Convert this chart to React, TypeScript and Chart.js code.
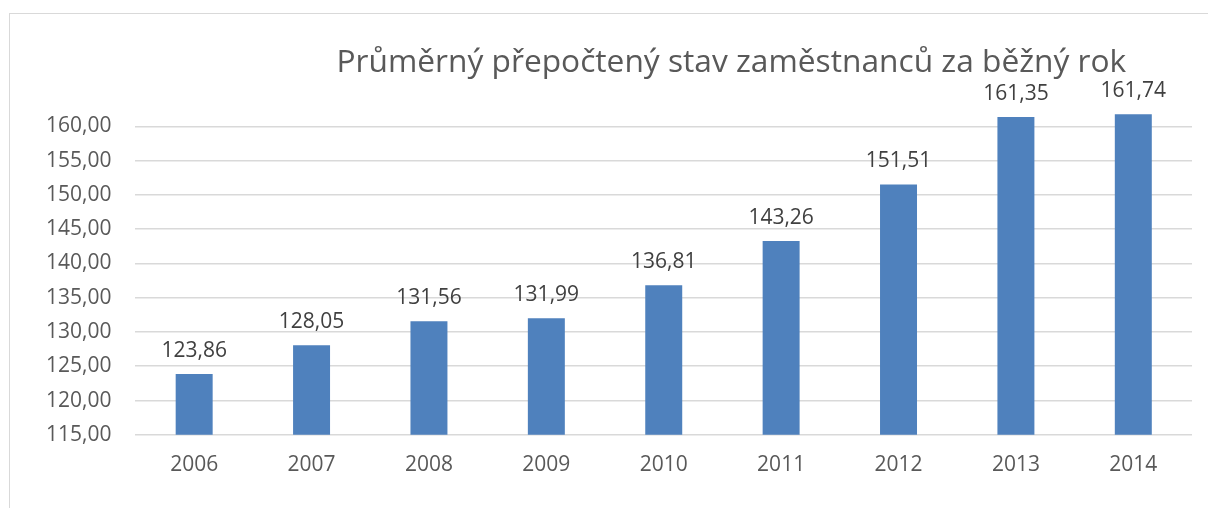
import React, { useEffect, useRef } from "react";
import { Chart, registerables } from "chart.js";

Chart.register(...registerables);

const TITLE = "Průměrný přepočtený stav zaměstnanců za běžný rok";
const YEARS = ["2006", "2007", "2008", "2009", "2010", "2011", "2012", "2013", "2014"];
const VALUES = [123.86, 128.05, 131.56, 131.99, 136.81, 143.26, 151.51, 161.35, 161.74];
const Y_MIN = 115;
const Y_MAX = 165;
const Y_STEP = 5;

const FONT = "'Open Sans', 'Liberation Sans', sans-serif";
const fmt = (v: number) => v.toFixed(2).replace(".", ",");

export default function App() {
  const ref = useRef<HTMLCanvasElement | null>(null);

  useEffect(() => {
    if (!ref.current) return;
    const labelPlugin = {
      id: "labelsAndTitle",
      afterDatasetsDraw(chart: any) {
        const ctx = chart.ctx;
        const meta = chart.getDatasetMeta(0);
        ctx.save();
        ctx.font = `21px ${FONT}`;
        ctx.fillStyle = "#404040";
        ctx.textAlign = "center";
        ctx.textBaseline = "alphabetic";
        meta.data.forEach((bar: any, i: number) => {
          ctx.fillText(fmt(VALUES[i]), bar.x, bar.y - 17);
        });
        // title
        const area = chart.chartArea;
        ctx.font = `31.7px ${FONT}`;
        ctx.fillStyle = "#595959";
        ctx.textAlign = "center";
        ctx.fillText(TITLE, area.left + (area.right - area.left) * 0.564, 58);
        ctx.restore();
      },
    };

    const chart = new Chart(ref.current, {
      type: "bar",
      data: {
        labels: YEARS,
        datasets: [
          {
            data: VALUES,
            backgroundColor: "#4f81bd",
            borderWidth: 0,
            barPercentage: 0.315,
            categoryPercentage: 1,
          },
        ],
      },
      options: {
        animation: false,
        responsive: true,
        maintainAspectRatio: false,
        layout: { padding: { top: 78, right: 16, bottom: 12, left: 12 } },
        plugins: {
          legend: { display: false },
          title: { display: false },
          tooltip: { enabled: false },
        },
        scales: {
          x: {
            grid: { display: false, drawTicks: false },
            border: { display: false },
            ticks: { color: "#595959", font: { family: FONT, size: 21 }, padding: 18 },
          },
          y: {
            min: Y_MIN,
            max: Y_MAX,
            border: { display: false },
            grid: {
              drawTicks: false,
              color: (c: any) => (c.tick && c.tick.value === Y_MAX ? "rgba(0,0,0,0)" : "#d9d9d9"),
              lineWidth: 1.5,
            },
            ticks: {
              stepSize: Y_STEP,
              color: "#595959",
              font: { family: FONT, size: 21 },
              padding: 24,
              callback: (v: any) => (v === Y_MAX ? "" : fmt(Number(v))),
            },
          },
        },
      },
      plugins: [labelPlugin],
    });
    return () => chart.destroy();
  }, []);

  return (
    <div
      style={{
        position: "fixed",
        left: 9,
        top: 13,
        right: 0,
        bottom: 0,
        borderLeft: "1px solid #d9d9d9",
        borderTop: "1px solid #d9d9d9",
        background: "#fff",
      }}
    >
      <canvas ref={ref} />
    </div>
  );
}
